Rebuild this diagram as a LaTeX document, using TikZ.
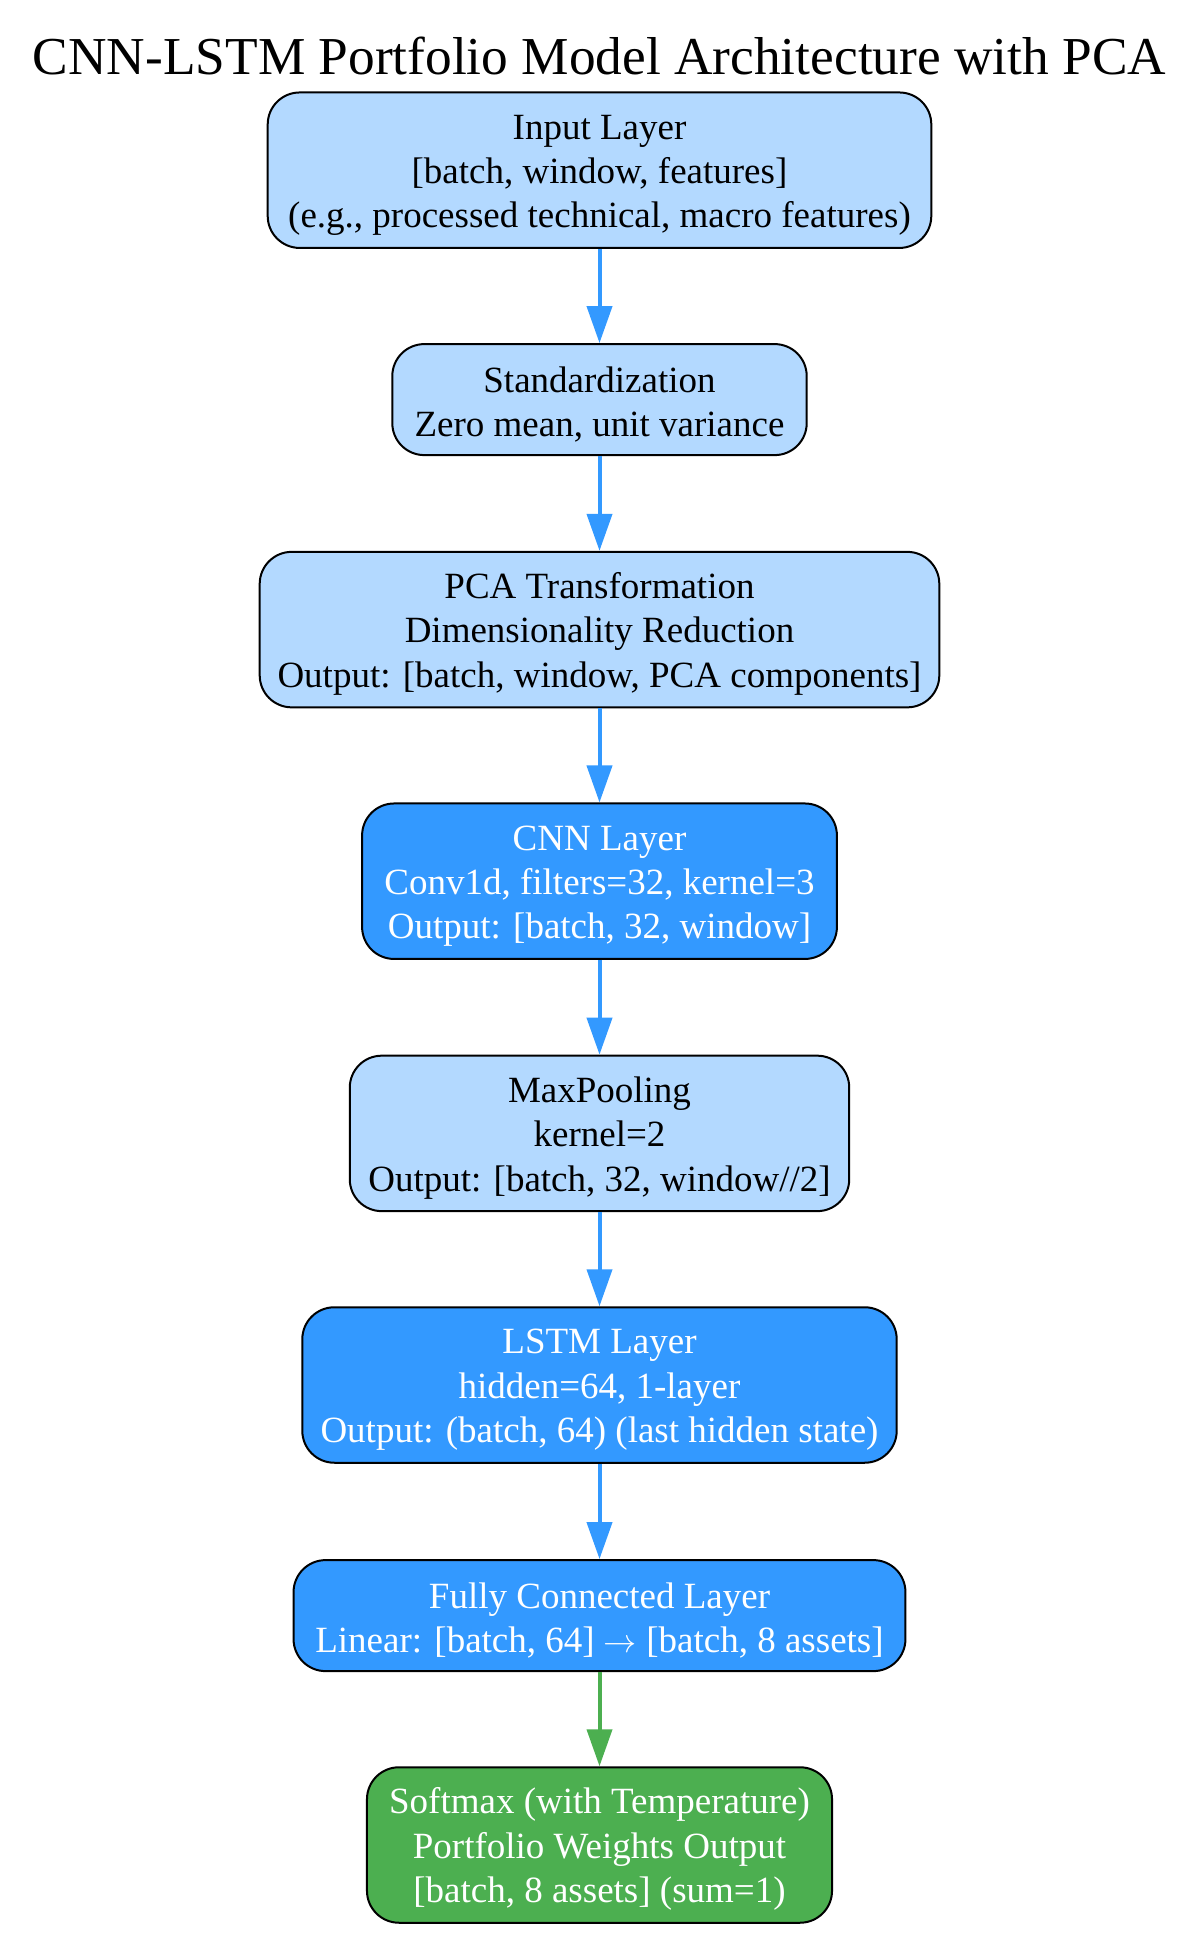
\documentclass[tikz,border=0pt]{standalone}
\usepackage{fontspec}
\setmainfont{Liberation Serif}
\usetikzlibrary{arrows.meta}
\definecolor{lightbox}{HTML}{B3D9FF}
\definecolor{darkbox}{HTML}{3399FF}
\definecolor{greenbox}{HTML}{4CAF50}
\tikzset{
  layer/.style={draw=black, line width=1.5pt, rounded corners=24pt, align=center,
    inner sep=0pt, font=\fontsize{27.75pt}{33.3pt}\selectfont},
  threelines/.style={text height=93.6pt, text depth=7pt, minimum height=116.6pt},
  twolines/.style={text height=62.5pt, text depth=7pt, minimum height=83.25pt},
  lightlayer/.style={layer, fill=lightbox, text=black},
  darklayer/.style={layer, fill=darkbox, text=white},
  greenlayer/.style={layer, fill=greenbox, text=white},
  flow/.style={draw=darkbox, line width=3pt, -{Triangle[length=27.75pt,width=18.75pt]}},
  greenflow/.style={flow, draw=greenbox, -{Triangle[length=27.75pt,width=18.75pt,color=greenbox]}},
  titletext/.style={font=\fontsize{40pt}{48pt}\selectfont, anchor=base, inner sep=0pt}
}
\begin{document}
\begin{tikzpicture}[x=0.75pt,y=-0.75pt]
\useasboundingbox (0,0) rectangle (1200,1933);
\node[titletext] (title) at (599.5,75) {CNN-LSTM Portfolio Model Architecture with PCA};
\node[lightlayer, threelines, minimum width=497.7pt] (input) at (599.5,170.2)
  {Input Layer\\{}[batch, window, features]\\(e.g., processed technical, macro features)};
\node[lightlayer, twolines, minimum width=310.8pt] (std) at (599.5,399.6)
  {Standardization\\Zero mean, unit variance};
\node[lightlayer, threelines, minimum width=509.7pt] (pca) at (599.5,629.6)
  {PCA Transformation\\Dimensionality Reduction\\Output: [batch, window, PCA components]};
\node[darklayer, threelines, minimum width=356.1pt] (cnn) at (599.5,881.2)
  {CNN Layer\\Conv1d, filters=32, kernel=3\\Output: [batch, 32, window]};
\node[lightlayer, threelines, minimum width=374.6pt] (pool) at (599.5,1133.4)
  {MaxPooling\\kernel=2\\Output: [batch, 32, window//2]};
\node[darklayer, threelines, minimum width=445.8pt] (lstm) at (599.5,1385)
  {LSTM Layer\\hidden=64, 1-layer\\Output: (batch, 64) (last hidden state)};
\node[darklayer, twolines, minimum width=458.9pt] (fc) at (599.5,1615.6)
  {Fully Connected Layer\\Linear: [batch, 64] $\rightarrow$ [batch, 8 assets]};
\node[greenlayer, threelines, minimum width=348.8pt] (soft) at (599.5,1845)
  {Softmax (with Temperature)\\Portfolio Weights Output\\{}[batch, 8 assets] (sum=1)};
\draw[flow] (input.south) -- (std.north);
\draw[flow] (std.south) -- (pca.north);
\draw[flow] (pca.south) -- (cnn.north);
\draw[flow] (cnn.south) -- (pool.north);
\draw[flow] (pool.south) -- (lstm.north);
\draw[flow] (lstm.south) -- (fc.north);
\draw[greenflow] (fc.south) -- (soft.north);
\end{tikzpicture}
\end{document}
